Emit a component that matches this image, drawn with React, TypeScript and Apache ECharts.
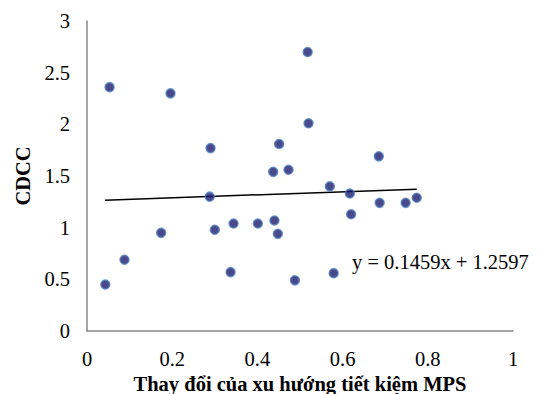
import React, { useEffect, useRef } from "react";
import * as echarts from "echarts";

const xValues = [0.053, 0.196, 0.518, 0.520, 0.290, 0.451, 0.437, 0.473, 0.288, 0.043, 0.088, 0.174, 0.300, 0.344, 0.337, 0.401, 0.440, 0.448, 0.488, 0.685, 0.570, 0.617, 0.687, 0.748, 0.774, 0.620, 0.579];
const yValues = [2.36, 2.30, 2.70, 2.01, 1.77, 1.81, 1.54, 1.56, 1.30, 0.45, 0.69, 0.95, 0.98, 1.04, 0.57, 1.04, 1.07, 0.94, 0.49, 1.69, 1.40, 1.33, 1.24, 1.24, 1.29, 1.13, 0.56];
const slope = 0.1459;
const intercept = 1.2597;
const trendX = [0.042, 0.774];
const equationLabel = "y = 0.1459x + 1.2597";
const xTitle = "Thay đổi của xu hướng tiết kiệm MPS";
const yTitle = "CDCC";

export default function App() {
  const ref = useRef<HTMLDivElement>(null);
  useEffect(() => {
    const chart = echarts.init(ref.current!, null, { renderer: "svg" });
    const points = xValues.map((x, i) => [x, yValues[i]]);
    const trend = trendX.map((x) => [x, slope * x + intercept]);
    const font = "Liberation Serif";
    const fs = 20.5;
    chart.setOption({
      animation: false,
      textStyle: { fontFamily: font },
      grid: { left: 87, right: 25, top: 21, bottom: 63, containLabel: false, outerBoundsMode: "none" },
      xAxis: {
        type: "value",
        min: 0,
        max: 1,
        interval: 0.2,
        axisLine: { show: true, lineStyle: { color: "#898989", width: 1.5 } },
        axisTick: { show: false },
        splitLine: { show: false },
        axisLabel: { color: "#000", fontSize: fs, fontFamily: font, margin: 17 },
        name: xTitle,
        nameLocation: "middle",
        nameGap: 40,
        nameTextStyle: { color: "#000", fontSize: fs, fontWeight: "bold", fontFamily: font },
      },
      yAxis: {
        type: "value",
        min: 0,
        max: 3,
        interval: 0.5,
        axisLine: { show: true, lineStyle: { color: "#898989", width: 1.5 } },
        axisTick: { show: false },
        splitLine: { show: false },
        axisLabel: { color: "#000", fontSize: fs, fontFamily: font, margin: 17 },
        name: yTitle,
        nameLocation: "middle",
        nameGap: 53,
        nameRotate: 90,
        nameTextStyle: { color: "#000", fontSize: fs, fontWeight: "bold", fontFamily: font },
      },
      series: [
        {
          type: "scatter",
          data: points,
          symbol: "circle",
          symbolSize: 9,
          itemStyle: { color: "#1c1c6e", borderColor: "#4f81bd", borderWidth: 1.5 },
          z: 3,
        },
        {
          type: "line",
          data: trend,
          symbol: "none",
          lineStyle: { color: "#000", width: 1.5 },
          z: 2,
          silent: true,
        },
      ],
      graphic: [
        {
          type: "text",
          left: 352,
          top: 251,
          style: { text: equationLabel, fill: "#000", fontSize: fs, fontFamily: font },
        },
      ],
    });
    return () => chart.dispose();
  }, []);
  return <div ref={ref} style={{ width: 538, height: 394, position: "absolute", left: 0, top: 0 }} />;
}
